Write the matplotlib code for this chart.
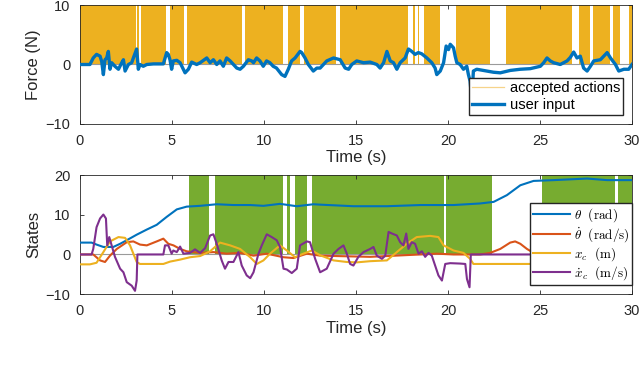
import numpy as np
import matplotlib
matplotlib.use('Agg')
import matplotlib.pyplot as plt
from matplotlib.lines import Line2D

plt.rcParams['font.family'] = ['Liberation Sans', 'DejaVu Sans']
plt.rcParams['mathtext.fontset'] = 'cm'

# accepted actions (top), intervals in seconds
acc_start = [0.0, 3.10, 3.34, 4.87, 5.82, 8.96, 11.31, 12.18, 14.14, 18.12, 18.38,
             18.67, 20.45, 23.17, 27.10, 27.88, 28.97, 29.82]
acc_end = [3.02, 3.18, 4.65, 5.63, 8.79, 11.02, 11.96, 13.90, 17.85, 18.22, 18.43,
           19.58, 22.30, 26.74, 27.73, 28.78, 29.37, 30.0]

# accepted actions (bottom)
grn_start = [5.91, 7.36, 11.27, 11.71, 12.62, 19.90, 25.11, 29.22]
grn_end = [7.01, 11.02, 11.44, 12.34, 19.77, 22.39, 29.09, 30.0]

# user input force (N)
t_u = [0, 0.54, 0.72, 0.9, 1.09, 1.18, 1.27, 1.36, 1.45, 1.54, 1.63, 1.72, 1.9,
       2.09, 2.27, 2.36, 2.45, 2.63, 2.81, 2.9, 3.08, 3.17, 3.26, 3.44, 3.63,
       3.99, 4.53, 4.71, 4.8, 4.89, 4.98, 5.07, 5.26, 5.44, 5.71, 5.89, 6.07,
       6.34, 6.53, 6.71, 6.89, 7.07, 7.25, 7.43, 7.61, 7.79, 7.97, 8.16, 8.34,
       8.52, 8.7, 8.88, 9.15, 9.33, 9.43, 9.6, 9.78, 9.96, 10.14, 10.32, 10.5,
       10.68, 10.96, 11.14, 11.32, 11.5, 11.69, 11.96, 12.05, 12.23, 12.41,
       12.68, 12.87, 13.05, 13.41, 13.78, 14.14, 14.41, 14.6, 14.77, 15.04,
       15.41, 15.77, 16.13, 16.31, 16.5, 16.68, 16.86, 17.04, 17.22, 17.4,
       17.67, 17.85, 18.03, 18.21, 18.39, 18.57, 18.85, 19.12, 19.3, 19.39,
       19.58, 19.76, 19.9, 20.03, 20.12, 20.3, 20.39, 20.48, 20.66, 20.84,
       21.02, 21.11, 21.2, 21.29, 21.38, 21.56, 21.93, 22.47, 22.84, 23.38,
       23.93, 24.47, 25.02, 25.2, 25.38, 25.56, 25.74, 26.1, 26.47, 26.65,
       26.83, 27.01, 27.19, 27.37, 27.56, 27.74, 27.92, 28.28, 28.65, 28.83,
       29.1, 29.28, 29.56, 29.82, 30.0]
f_u = [0, 0, 1.1, 1.7, 1.4, 0.5, -1.7, 0.8, 1.1, 2.2, -0.8, 0.3, -0.3,
       -0.8, 0.3, 0.8, -1.1, 0.0, 0.3, 1.1, 2.6, -0.8, 0.0, -0.3, 0.0,
       0.1, 0.1, 2.0, 1.7, 0.8, -0.8, 0.6, 0.7, 0.3, -1.4, -0.8, 0.4,
       0.0, 0.3, 0.7, 1.1, 0.3, 0.8, 0.0, 0.6, -0.3, 1.1, 0.6, 0.0,
       -0.6, -0.8, -0.3, 0.8, 0.6, 0.3, 1.1, 0.6, -0.3, 0.6, 0.3, -0.3,
       -0.6, -1.7, -2.0, -0.8, 0.6, 1.1, 2.2, 2.0, 1.1, 0.0,
       -1.1, -0.6, -0.6, 0.6, 1.1, 0.8, -0.6, -0.8, 0.0, 0.6,
       0.3, 0.4, 0.0, -0.6, 0.3, 2.2, 0.6, 0.3, -0.8, 0.3,
       1.1, 2.6, 2.2, 1.7, 2.0, 1.8, 1.1, 0.3, -0.6, -1.7,
       -1.1, 0.3, 3.1, 2.5, 3.4, 2.8, 1.4, 0.3, 0.0, -0.8,
       -0.3, -1.7, -2.8, -5.9, -1.1, -0.8, -1.0, -1.3, -1.4, -1.0,
       -0.8, -0.7, -0.3, 0.3, 1.1, 0.6, 0.3, 0.0, 0.6, 1.2,
       2.1, 1.1, 1.4, -0.6, -1.1, -0.3, 0.6, 0.8, 2.0, 1.1,
       0.0, -1.1, -0.8, -0.8, 0.0]

# theta (rad)
t_th = [0, 0.63, 0.9, 1.27, 1.81, 2.18, 2.54, 3.08, 3.63, 4.17, 4.71, 5.26, 5.8,
        6.53, 7.43, 8.34, 9.25, 9.97, 10.87, 11.78, 12.69, 13.05, 14.86, 16.68,
        18.49, 20.3, 21.75, 22.48, 23.2, 23.93, 24.65, 25.74, 27.56, 28.65, 30.0]
th = [3.0, 3.0, 2.5, 1.9, 1.9, 2.7, 3.6, 5.0, 6.3, 7.5, 9.5, 11.4, 12.1,
      12.3, 12.7, 12.5, 12.5, 12.3, 12.8, 12.2, 12.7, 12.6, 12.2, 12.2,
      12.5, 12.5, 12.9, 13.3, 15.0, 17.5, 18.6, 18.8, 19.2, 18.8, 18.8]

# theta dot (rad/s)
t_thd = [0, 0.72, 1.09, 1.36, 1.63, 2.0, 2.54, 2.9, 3.26, 3.63, 4.17, 4.53, 4.8,
         5.08, 5.44, 5.8, 6.53, 7.25, 7.97, 8.7, 9.43, 10.15, 11.06, 11.6, 12.33,
         13.05, 13.95, 15.77, 17.58, 18.49, 19.39, 20.3, 21.03, 21.75, 22.29,
         22.84, 23.38, 23.65, 23.93, 24.29, 24.65, 25.02, 25.74, 27.56, 29.37,
         29.8, 30.0]
thd = [0, 0, -1.5, -1.9, -0.3, 1.4, 3.1, 3.3, 2.5, 2.3, 3.3, 4.0, 2.7,
       2.3, 1.4, 0.8, 0.4, 0.6, 0.2, 0.4, -0.3, 0.2, -0.7, -0.9, 0.2,
       -0.3, -0.4, -0.6, -0.2, 0.0, 0.2, 0.0, 0.0, 0.0, 0.4,
       1.4, 3.0, 3.3, 2.7, 1.4, 0.4, -0.2, -0.4, -0.2, -0.4,
       -0.8, -1.0]

# cart position x_c (m)
t_xc = [0, 0.54, 0.9, 1.27, 1.63, 2.09, 2.45, 2.72, 3.08, 3.26, 3.99, 4.53, 4.9,
        5.44, 5.98, 6.53, 7.07, 7.61, 8.16, 8.7, 9.25, 9.61, 9.97, 10.33, 10.87,
        11.24, 11.69, 12.14, 12.6, 13.05, 13.78, 14.5, 15.04, 15.77, 16.68,
        17.22, 17.76, 18.3, 19.03, 19.48, 19.76, 20.3, 20.84, 21.2, 21.38, 30.0]
xc = [-2.5, -2.5, -2.1, 0.6, 3.3, 4.4, 4.2, 2.3, -1.9, -2.4, -2.4, -2.4, -1.8,
      -1.3, -0.7, -0.4, 0.8, 3.0, 2.3, 1.4, -0.7, -2.4, -1.5, 0.2, 2.3,
      1.0, -0.7, 0.2, 1.0, -0.2, -1.5, -1.9, -2.0, -1.7, -1.5,
      0.6, 2.7, 4.4, 4.7, 4.4, 2.3, 1.0, 0.4, -1.1, -2.4, -2.4]

# cart velocity x_c dot (m/s)
t_xcd = [0, 0.63, 0.72, 0.9, 1.09, 1.27, 1.41, 1.48, 1.59, 1.72, 1.9, 2.18, 2.36,
         2.54, 2.81, 2.99, 3.08, 3.12, 4.53, 4.62, 4.8, 4.98, 5.07, 5.26, 5.44,
         5.62, 5.98, 6.25, 6.53, 6.8, 7.07, 7.25, 7.43, 7.7, 7.88, 8.07, 8.34,
         8.61, 8.79, 9.06, 9.25, 9.43, 9.7, 9.88, 10.15, 10.42, 10.69, 10.87,
         11.06, 11.24, 11.51, 11.78, 11.96, 12.33, 12.5, 12.78, 13.05, 13.41,
         13.78, 14.05, 14.32, 14.5, 14.68, 14.86, 15.13, 15.41, 15.77, 15.95,
         16.13, 16.41, 16.59, 16.77, 16.95, 17.22, 17.4, 17.58, 17.73, 17.85,
         18.03, 18.21, 18.4, 18.58, 18.76, 18.94, 19.12, 19.3, 19.48, 19.67,
         19.85, 20.12, 20.66, 20.94, 21.03, 21.17, 21.24, 29.7, 29.85, 30.0]
xcd = [0, 0, 1.4, 6.9, 9.1, 10.1, 9.1, 2.3, 4.4, 2.3, -0.6, -3.6, -4.5,
       -7.0, -7.9, -9.2, -6.6, 0, 0, 2.3, 2.3, 0.2, 1.0, 0.6, 2.0,
       0.2, 0.4, 1.3, 0.4, 1.6, 4.8, 5.1, 2.7, -1.5, -3.6, -1.9, -1.9,
       0.6, -2.8, -5.3, -6.0, -4.5, 0.2, 2.3, 5.1, 4.4, 3.6, 1.9,
       -3.6, -3.8, -4.7, -3.6, 2.3, 3.3, 3.1, -1.1, -4.5, -3.6,
       0.2, 1.4, 2.3, 0.2, -2.4, -2.8, -0.6, 0.6, 1.4, 1.9,
       -0.3, -1.1, -0.3, 5.7, 5.3, 4.8, 3.1, 2.3, 5.3, 1.4,
       3.1, 2.7, 0.2, 0.8, -0.6, 0.4, -0.3, -2.8, -5.3, -6.6,
       -2.4, -2.2, -2.3, -2.4, -6.2, -8.3, 0, 0, -1.5, -1.2]

blue = '#0072BD'
orange = '#D95319'
yellow = '#EDB120'
purple = '#7E2F8E'
green = '#77AC30'
gray = '#262626'

fig = plt.figure(figsize=(6.4, 3.65), dpi=100)
ax1 = fig.add_axes([0.125, 0.6603, 0.8625, 0.326])
ax2 = fig.add_axes([0.125, 0.1945, 0.8625, 0.325])


def style(ax):
    for s in ax.spines.values():
        s.set_color(gray)
        s.set_linewidth(0.6)
    ax.tick_params(direction='in', length=3, width=0.6, colors=gray,
                   labelsize=10.5, top=True, right=True, pad=7)
    ax.set_xlim(0, 30)
    ax.set_xticks(np.arange(0, 31, 5))
    ax.set_xlabel('Time (s)', fontsize=12, color=gray, labelpad=2)


# top: force
acc_s = np.array(acc_start)
acc_e = np.array(acc_end)
ax1.bar(acc_s, 10, width=acc_e - acc_s, bottom=0, align='edge',
        color=yellow, linewidth=0, zorder=1)
ax1.axhline(0, color='#9a9a9a', linewidth=0.8, zorder=2)
ax1.plot(t_u, f_u, color=blue, linewidth=2.4, zorder=3)
ax1.set_ylim(-10, 10)
ax1.set_yticks([-10, 0, 10])
ax1.set_ylabel('Force (N)', fontsize=12, color=gray, labelpad=3)
style(ax1)
h1 = [Line2D([], [], color='#F6D38A', linewidth=0.9),
      Line2D([], [], color=blue, linewidth=2.4)]
ax1.legend(h1, ['accepted actions', 'user input'], loc='lower right',
           bbox_to_anchor=(0.984, 0.076), fontsize=10.5, frameon=True,
           fancybox=False, edgecolor=gray, framealpha=1, handlelength=2.2,
           borderpad=0.2, labelspacing=0.2, handletextpad=0.4, borderaxespad=0)

# bottom: states
g_s = np.array(grn_start)
g_e = np.array(grn_end)
ax2.bar(g_s, 20, width=g_e - g_s, bottom=0, align='edge',
        color=green, linewidth=0, zorder=1)
ax2.axhline(0, color='#9a9a9a', linewidth=0.8, zorder=2)
l1, = ax2.plot(t_th, th, color=blue, linewidth=1.5, zorder=3)
l2, = ax2.plot(t_thd, thd, color=orange, linewidth=1.5, zorder=3)
l3, = ax2.plot(t_xc, xc, color=yellow, linewidth=1.5, zorder=3)
l4, = ax2.plot(t_xcd, xcd, color=purple, linewidth=1.5, zorder=4)
ax2.set_ylim(-10, 20)
ax2.set_yticks([-10, 0, 10, 20])
ax2.set_ylabel('States', fontsize=12, color=gray, labelpad=3)
style(ax2)
ax2.legend([l1, l2, l3, l4],
           [r'$\theta\ \ \mathrm{(rad)}$', r'$\dot{\theta}\ \ \mathrm{(rad/s)}$',
            r'$x_c\ \ \mathrm{(m)}$', r'$\dot{x}_c\ \ \mathrm{(m/s)}$'],
           loc='lower right', bbox_to_anchor=(1.0, 0.076), fontsize=9.5,
           frameon=True, fancybox=False, edgecolor=gray, framealpha=1,
           handlelength=2.8, borderpad=0.2, labelspacing=0.1,
           handletextpad=0.3, borderaxespad=0)

fig.savefig('out.png', dpi=100)
